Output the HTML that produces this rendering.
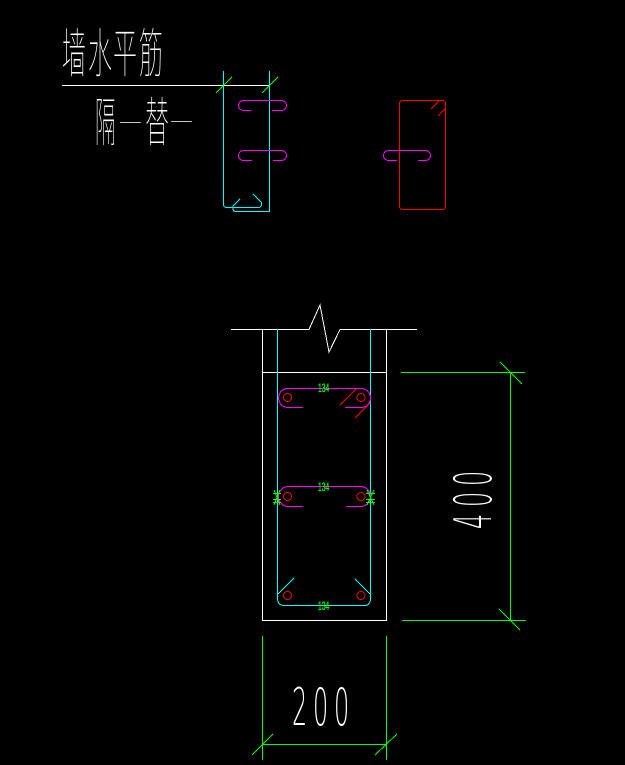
<!DOCTYPE html>
<html><head><meta charset="utf-8"><style>
html,body{margin:0;padding:0;background:#000;width:625px;height:765px;overflow:hidden}
svg{display:block}
.cjk{font-family:"Noto Sans CJK SC","WenQuanYi Zen Hei",sans-serif;font-weight:100;fill:#fff;font-size:24px}
.num{font-family:"DejaVu Sans","Liberation Sans",sans-serif;font-weight:200;fill:#fff;font-size:52px}
.sm{font-family:"Liberation Sans",sans-serif;fill:#0f0;stroke:#0f0;stroke-width:.3;font-size:12px}
</style></head><body>
<svg width="625" height="765" viewBox="0 0 625 765" xmlns="http://www.w3.org/2000/svg">
<rect width="625" height="765" fill="#000"/>
<g fill="none" stroke-width="1" shape-rendering="crispEdges">
<!-- title rule -->
<path d="M62 85.5H270" stroke="#fff"/>
<!-- top-left section cyan -->
<path d="M223.5 71V204Q223.5 207.5 227 207.5H258Q261.5 207.5 261.5 204V202.5L253 194" stroke="#0ff"/>
<path d="M240 199L233 206V208Q233 211.5 236 211.5H269.5V71" stroke="#0ff"/>
<path d="M216 93L232 77M262 93L278 77" stroke="#0f0"/>
<path d="M251 110.5H243.5A5 5 0 0 1 243.5 100.5H281.5A5 5 0 0 1 281.5 110.5H272" stroke="#f0f"/>
<path d="M252 160.5H243.5A5 5 0 0 1 243.5 150.5H281.5A5 5 0 0 1 281.5 160.5H273" stroke="#f0f"/>
<!-- top-right section -->
<rect x="399.5" y="100.5" width="46" height="109" rx="3" stroke="#f00"/>
<path d="M431 109L439 101M438 116L445 109" stroke="#f00"/>
<path d="M397 160.5H388.5A5 5 0 0 1 388.5 150.5H425.5A5 5 0 0 1 425.5 160.5H418" stroke="#f0f"/>
<!-- section outline -->
<path d="M231 329.5H309L320 305L329 352L340 329.5H417" stroke="#fff"/>
<path d="M262.5 329V620.5H386.5V329M262.5 372.5H386.5" stroke="#fff"/>
<!-- cyan stirrup -->
<path d="M277.5 329V598Q277.5 605.5 284 605.5H364Q370.5 605.5 370.5 599V329" stroke="#0ff"/>
<path d="M278 594L294 578M370 594L355 579" stroke="#0ff"/>
<!-- red details -->
<path d="M340 405L356 389M355 418L370 403" stroke="#f00"/>
<circle cx="287.5" cy="397.5" r="4" stroke="#f00"/>
<circle cx="361" cy="397.5" r="4" stroke="#f00"/>
<circle cx="287.5" cy="496.5" r="4" stroke="#f00"/>
<circle cx="361" cy="496.5" r="4" stroke="#f00"/>
<circle cx="287.5" cy="595.5" r="4" stroke="#f00"/>
<circle cx="361" cy="595.5" r="4" stroke="#f00"/>
<!-- magenta stirrups -->
<path d="M303 407.5H288A9.5 9.5 0 0 1 288 388.5H361A9.5 9.5 0 0 1 361 407.5H345" stroke="#f0f"/>
<path d="M303 506.5H288.5A10 10 0 0 1 288.5 486.5H360.5A10 10 0 0 1 360.5 506.5H346" stroke="#f0f"/>
<!-- tie marks -->
<path d="M273 493.5H281M273 499.5H281M273 502.5H281M274 490L280 505M280 490L274 505" stroke="#0f0"/>
<path d="M366 493.5H375M366 499.5H375M366 502.5H375M367 490L374 505M374 490L367 505" stroke="#0f0"/>
<!-- dimensions -->
<path d="M262.5 636V760M386.5 636V760M262 744.5H387" stroke="#0f0"/>
<path d="M252 755L273 734M375 755L397 734" stroke="#0f0"/>
<path d="M401 372.5H525M402 620.5H526M510.5 372V621" stroke="#0f0"/>
<path d="M500 362L522 384M499 609L520 630" stroke="#0f0"/>
</g>
<!-- handwritten-style labels -->
<text class="cjk" transform="translate(62,72) scale(1,2.2)">墙</text>
<text class="cjk" transform="translate(88,72) scale(1,2.2)">水</text>
<text class="cjk" transform="translate(113,72) scale(1,2.2)">平</text>
<text class="cjk" transform="translate(139,72) scale(1,2.2)">筋</text>
<text class="cjk" transform="translate(95,141) scale(.85,2.2)">隔</text>
<text class="cjk" transform="translate(119,132) scale(.95,1)">一</text>
<text class="cjk" transform="translate(145,141) scale(1,2.2)">替</text>
<text class="cjk" transform="translate(170,131) scale(.95,1)">一</text>
<text class="sm" transform="translate(318,392) scale(.56,1)">134</text>
<text class="sm" transform="translate(318,491) scale(.56,1)">134</text>
<text class="sm" transform="translate(318,610) scale(.56,1)">134</text>
<text class="num" transform="translate(292,725) scale(.46,1)">2</text>
<text class="num" transform="translate(313,725) scale(.46,1)">0</text>
<text class="num" transform="translate(334,725) scale(.46,1)">0</text>
<text class="num" transform="translate(491,529) rotate(-90) scale(.46,1)">4</text>
<text class="num" transform="translate(491,507) rotate(-90) scale(.46,1)">0</text>
<text class="num" transform="translate(491,486) rotate(-90) scale(.46,1)">0</text>
</svg>
</body></html>
